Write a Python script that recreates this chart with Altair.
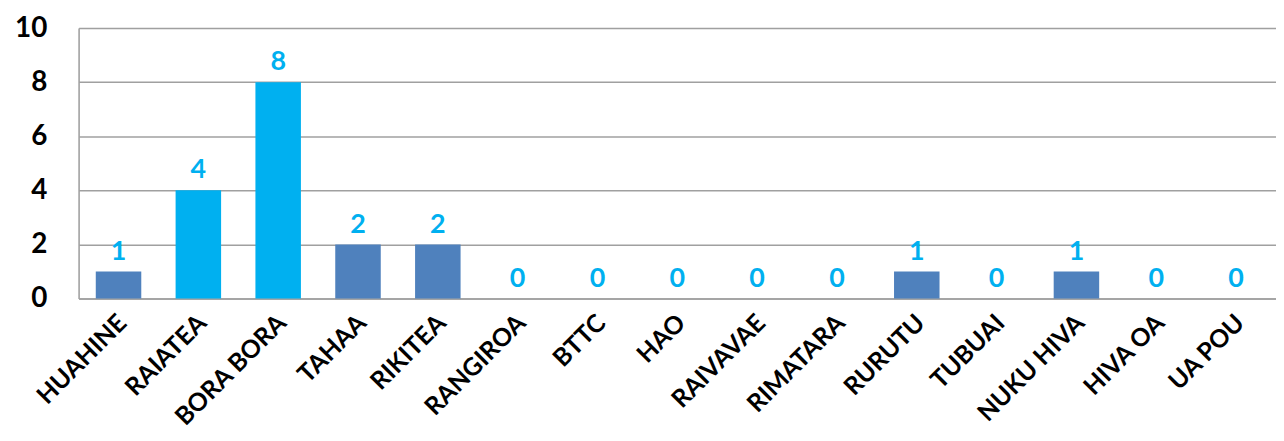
import altair as alt
import pandas as pd

categories = ["HUAHINE", "RAIATEA", "BORA BORA", "TAHAA", "RIKITEA", "RANGIROA", "BTTC",
              "HAO", "RAIVAVAE", "RIMATARA", "RURUTU", "TUBUAI", "NUKU HIVA", "HIVA OA", "UA POU"]
values = [1, 4, 8, 2, 2, 0, 0, 0, 0, 0, 1, 0, 1, 0, 0]
highlighted = ["RAIATEA", "BORA BORA"]
y_ticks = [0, 2, 4, 6, 8, 10]

df = pd.DataFrame({"cat": categories, "val": values})
df["hl"] = df["cat"].isin(highlighted)

FONT = "Lato"
x = alt.X("cat:N", sort=categories,
          scale=alt.Scale(paddingInner=0.43, paddingOuter=0.215),
          axis=alt.Axis(title=None, labelAngle=-45, labelAlign="right", labelBaseline="middle",
                        labelFontSize=25, labelFontWeight="bold", labelColor="#000000",
                        labelFont=FONT, labelPadding=20, ticks=False, domain=True,
                        domainColor="#A0A0A0", domainWidth=1.5, labelOffset=4))
y = alt.Y("val:Q", scale=alt.Scale(domain=[0, 10], nice=False),
          axis=alt.Axis(title=None, values=y_ticks, labelFontSize=28, labelFontWeight="bold",
                        labelColor="#000000", labelFont=FONT, labelPadding=32, ticks=False,
                        domainColor="#A0A0A0", domainWidth=1.5, gridColor="#A0A0A0",
                        gridWidth=1.5))

bars = alt.Chart(df).mark_bar().encode(
    x=x, y=y,
    color=alt.condition("datum.hl", alt.value("#00B0F0"), alt.value("#4F81BD")),
)
labels = alt.Chart(df).mark_text(baseline="bottom", dy=-6, fontSize=27, fontWeight="bold",
                                 color="#00B0F0", font=FONT).encode(
    x=alt.X("cat:N", sort=categories), y="val:Q", text="val:Q")

chart = (bars + labels).properties(
    width=1204, height=272,
    autosize=alt.AutoSizeParams(type="none"),
    padding={"left": 71, "top": 19, "right": 0, "bottom": 130},
).configure_view(stroke="#A0A0A0", strokeWidth=1.5).configure(background="white")

chart.save("out.html", embed_options={"renderer": "svg", "actions": False})
